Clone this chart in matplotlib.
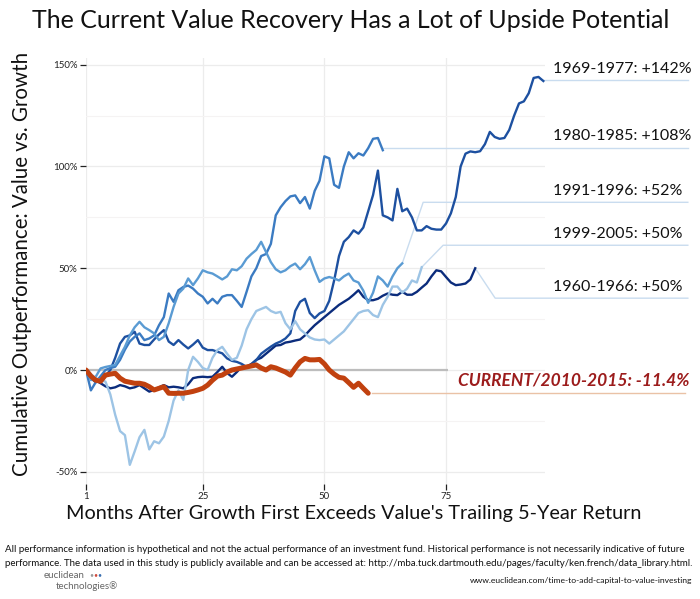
import matplotlib
matplotlib.use("Agg")
import matplotlib.pyplot as plt
import numpy as np

plt.rcParams['font.family'] = ['Lato', 'DejaVu Sans']

# ---------------- data (cumulative outperformance, %) ----------------
s1960 = [0, -3, -5, -6.5, -8, -9, -8.5, -7.4, -8, -9, -8.5, -7.4, -9, -10.6, -9.8, -8.5, -7.4, -8.5, -8.2, -8.5,
         -9, -7, -4, -3.5, -3.3, -3.5, -3.3, -1, 1.6, -1.5, -3.3, -1, 1.6, 1.6, 3, 5, 6, 8, 10, 12,
         12.3, 13.5, 13.9, 14.5, 15, 17, 19.6, 22, 24, 26, 28, 30, 32, 33.5, 35, 37, 39.2, 36, 34.3, 34.3,
         35, 36.5, 37.6, 37, 36.8, 38.4, 37, 37, 38.4, 40.5, 42.5, 46, 49, 48.5, 45.7, 43, 41.7, 42, 42.5, 44.5,
         50]
s1969 = [0, -4, -6, -5, -3, 0, 6, 13, 16.3, 17, 18.8, 13, 12.3, 12.3, 15, 17.5, 19.6, 14, 12.3, 14.7,
         12.5, 10.6, 12.5, 14.7, 11, 9.8, 9.8, 9, 8.2, 5.7, 4.5, 4, 3, 1.5, 2.5, 4.9, 8, 9.8, 11.5, 13,
         14, 15.5, 18, 29, 33.5, 35, 28, 25.5, 27.8, 29, 34, 44, 56, 63, 65.3, 68.6, 67, 70, 78, 86,
         98, 76, 75, 73.5, 89, 78, 79.3, 75, 68.6, 68.6, 70.7, 69.4, 69, 69, 72, 77, 85, 100, 106.3, 107.4,
         107, 107.5, 111, 117, 114.5, 113.6, 114, 118, 125, 131, 132, 136, 143.5, 144, 142]
s1980 = [0, -10, -6, -3, 0, 1, 1.6, 5, 10, 14, 16.3, 18, 14.7, 15.5, 17, 22, 26, 37.6, 33.5, 39.2,
         40.8, 41.5, 40, 37.6, 36, 32.7, 35, 32.7, 36, 36.8, 36.8, 34, 31, 38.4, 46, 50, 56, 57, 62, 76,
         80, 83, 85.3, 85.8, 82, 85, 79.3, 88, 93, 105, 104, 91, 89.5, 100, 107, 104, 106.5, 105.4, 109, 113.6,
         114, 108]
s1991 = [0, -5, -3.3, 0.8, 1.5, 2, 2.5, 7, 11.4, 17, 21, 23.7, 21, 19.6, 18, 14.7, 16.3, 23, 31, 37.6,
         40, 45, 41.7, 45, 49, 48, 47.4, 46, 44.5, 46, 49.5, 49, 51, 54.7, 57, 59, 63, 58, 53, 49.5,
         48, 49, 51, 52.3, 49.5, 52, 55.5, 49, 43.3, 45, 45.7, 45, 44, 46, 47.4, 44, 43, 39, 33, 38,
         46, 44, 41, 46, 50, 52.4]
s1999 = [0, -2, -4, -5, -5.7, -12, -22, -30, -32, -46.6, -40, -33, -29.4, -39, -35, -36, -32.7, -25, -15, -10,
         -14.7, 0, 6.5, 4, 1, 0, 6, 9.8, 11.4, 8, 5, 6, 12, 20, 25, 29, 30, 31, 29, 28,
         28.6, 23, 20, 24, 20, 18, 16, 15, 14.7, 15, 13, 15, 17, 19, 22, 25, 28, 29, 29.4, 27,
         26, 32, 36, 41, 41, 38, 40, 44, 43, 50.5]
current = [0, -3, -5, -5.5, -2.5, -2, -1.6, -4, -5.5, -6, -6.5, -6.5, -7, -8.2, -9.8, -9, -8.2, -11.4, -11.5, -11.4,
           -11.4, -11, -10.5, -9.8, -9, -7.4, -5, -3, -2.5, -1, 0, 0.5, 1, 1.5, 2, 2.5, 1, 0, 1.6, 1,
           0, -1, -2.5, 1, 4, 5.7, 5, 5, 5.2, 3, 0, -2, -3.6, -4, -6.2, -8.5, -6.5, -9, -11.4]

series = [s1960, s1969, s1980, s1991, s1999]
names = ["1960-1966: +50%", "1969-1977: +142%", "1980-1985: +108%", "1991-1996: +52%", "1999-2005: +50%"]
colors = ["#0b2c7c", "#1d50a0", "#3b7bc2", "#5a9bd3", "#9dc4e5"]
# label line level (%) and elbow month for each leader line
label_level = [35.3, 142.6, 109.3, 82.4, 61.3]
label_elbow = [85.1, None, None, 70.3, 74.4]

current_name = "CURRENT/2010-2015: -11.4%"
current_level = -11.3

xticks = [1, 25, 50, 75]
yticks = [-50, 0, 50, 100, 150]
ytick_labels = ["-50%", "0%", "50%", "100%", "150%"]

# ---------------- figure ----------------
W, H = 700, 599
fig = plt.figure(figsize=(W / 100, H / 100), dpi=100)
ax = fig.add_axes([86 / W, (H - 484) / H, 458.8 / W, 426.4 / H])
ax.set_xlim(1, 95.3)
ax.set_ylim(-56, 153.5)
for s in ax.spines.values():
    s.set_visible(False)

ax.set_xticks(xticks)
ax.set_yticks(yticks)
ax.set_yticklabels(ytick_labels)
ax.set_yticks([-25, 25, 75, 125], minor=True)
ax.tick_params(axis='both', which='major', length=4, width=0.9, color='#222222',
               labelsize=7, labelcolor='#222222', pad=2)
ax.tick_params(axis='y', which='minor', length=0)
ax.grid(True, which='major', color='#ececec', lw=0.9)
ax.grid(True, which='minor', axis='y', color='#f5f3f3', lw=0.8)
ax.set_axisbelow(True)

# zero reference line
ax.hlines(0, 1, 75.5, color='#bdbdbd', lw=1.6, zorder=1)

leader_x_end = 124.7   # right end of leader lines (outside panel)
label_x = 97.0

for s, nm, c, lvl, elb in zip(series, names, colors, label_level, label_elbow):
    m = np.arange(1, len(s) + 1)
    ax.plot(m, s, color=c, lw=1.7, zorder=3, solid_joinstyle='round')
    xe, ye = m[-1], s[-1]
    if elb is None:
        xs, ys = [xe, leader_x_end], [lvl, lvl]
    else:
        xs, ys = [xe, elb, leader_x_end], [ye, lvl, lvl]
    ax.plot(xs, ys, color='#c9dcef', lw=1.0, zorder=2, clip_on=False)
    ax.annotate(nm, (label_x, lvl), xytext=(0, 3), textcoords='offset points',
                ha='left', va='bottom', fontsize=11.5, color='#111111', annotation_clip=False)

mc = np.arange(1, len(current) + 1)
ax.plot(mc, current, color='#c1410f', lw=3.6, zorder=5, solid_joinstyle='round', solid_capstyle='round')
ax.plot([mc[-1] + 0.8, leader_x_end - 0.6], [current_level, current_level], color='#eac2a6', lw=1.0,
        zorder=2, clip_on=False)
ax.annotate(current_name, (77.5, current_level), xytext=(0, 3), textcoords='offset points',
            ha='left', va='bottom', fontsize=12.5, color='#9c1c1c', fontweight='bold', fontstyle='italic',
            annotation_clip=False)

# ---------------- texts ----------------
fig.text(351 / W, 1 - 20 / H, "The Current Value Recovery Has a Lot of Upside Potential",
         ha='center', va='center', fontsize=18, color='#111111')
fig.text(354 / W, 1 - 513 / H, "Months After Growth First Exceeds Value's Trailing 5-Year Return",
         ha='center', va='center', fontsize=14.3, color='#111111')
fig.text(22 / W, 1 - 264 / H, "Cumulative Outperformance: Value vs. Growth",
         ha='center', va='center', rotation=90, fontsize=14.8, color='#111111')
fig.text(5 / W, 1 - 550 / H,
         "All performance information is hypothetical and not the actual performance of an investment fund. "
         "Historical performance is not necessarily indicative of future",
         ha='left', va='center', fontsize=7.05, color='#111111')
fig.text(5 / W, 1 - 564 / H,
         "performance. The data used in this study is publicly available and can be accessed at: "
         "http://mba.tuck.dartmouth.edu/pages/faculty/ken.french/data_library.html.",
         ha='left', va='center', fontsize=7.05, color='#111111')
fig.text(44 / W, 1 - 576 / H, "euclidean", ha='left', va='center', fontsize=7, color='#666666')
fig.text(89 / W, 1 - 575 / H, "•", ha='left', va='center', fontsize=5, color='#9a9a9a')
fig.text(93 / W, 1 - 575 / H, "•", ha='left', va='center', fontsize=5, color='#d04a3c')
fig.text(97 / W, 1 - 575 / H, "•", ha='left', va='center', fontsize=5, color='#3a6fb0')
fig.text(56 / W, 1 - 586 / H, "technologies®", ha='left', va='center', fontsize=7, color='#666666')
fig.text(692 / W, 1 - 580 / H, "www.euclidean.com/time-to-add-capital-to-value-investing",
         ha='right', va='center', fontsize=6.1, color='#111111')

fig.savefig("out.png", dpi=100)
